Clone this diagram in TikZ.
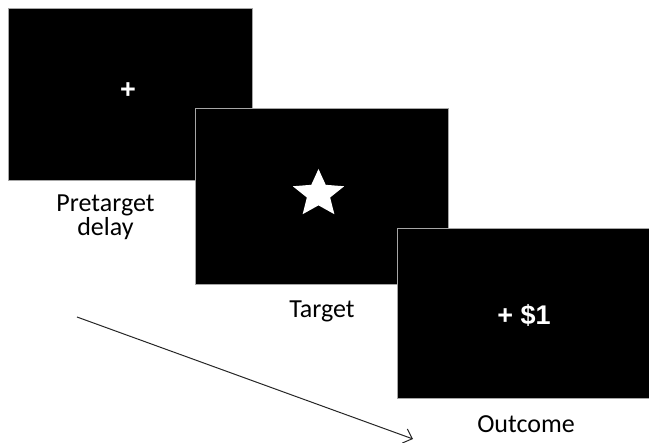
\documentclass[tikz,border=0pt]{standalone}
\usepackage{fontspec}
\setmainfont{Carlito}
\newfontfamily\arialfont{Liberation Sans}
\usetikzlibrary{positioning,shapes.geometric,arrows.meta}

\begin{document}
\begin{tikzpicture}[x=1pt,y=-1pt]
        \tikzstyle{screen} = [draw=gray!70,fill=black,line width=0.8pt,anchor=north west,inner sep=0pt]
        \tikzstyle{caption} = [font=\fontsize{26}{22}\selectfont,align=center,inner sep=0pt]
        \tikzstyle{cue} = [text=white,font=\arialfont\bfseries\fontsize{27}{27}\selectfont,inner sep=0pt,anchor=base]
        \useasboundingbox (0,0) rectangle (649,443);
        \node [screen, minimum width=244pt, minimum height=172pt] (delay) at (8,8) {};
        \node [screen, minimum width=253pt, minimum height=176pt] (target) at (195,108) {};
        \node [screen, minimum width=260pt, minimum height=170pt] (outcome) at (397,228) {};
        \node [star, star points=5, star point ratio=2.2, fill=white, minimum size=50pt, inner sep=0pt, xscale=1.08, transform shape] (star) at (318.5,194) {};
        \node [cue] (cross) at (128,99) {+};
        \node [cue] (reward) at (524,325) {+ \$1};
        \node [caption] (delaytext) at (105.5,217) {Pretarget\\delay};
        \node [caption, anchor=base] (targettext) at (322,318) {Target};
        \node [caption, anchor=base] (outcometext) at (526,433) {Outcome};
        \coordinate (start) at (77,317);
        \coordinate (stop) at (413,439);
        \draw [-{Straight Barb[length=8pt,width=15pt]}, line width=1pt, black!85] (start) -- (stop);
      \end{tikzpicture}
\end{document}
